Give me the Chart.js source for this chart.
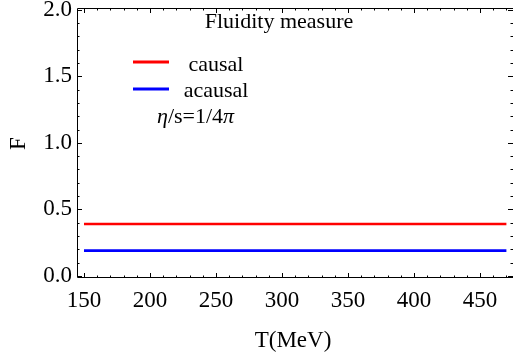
<!DOCTYPE html>
<html>
<head>
<meta charset="utf-8">
<script src="https://cdn.jsdelivr.net/npm/chart.js@4.4.1/dist/chart.umd.min.js"></script>
<style>
  html, body { margin: 0; padding: 0; background: #fff; }
  #wrap { width: 513px; height: 360px; }
</style>
</head>
<body>
<div id="wrap"><canvas id="fluidChart" width="513" height="360"></canvas></div>
<script>
// ---- data ----
const temperatures = [150, 200, 250, 300, 350, 400, 450, 470];
const causalF = [0.39, 0.39, 0.39, 0.39, 0.39, 0.39, 0.39, 0.39];
const acausalF = [0.19, 0.19, 0.19, 0.19, 0.19, 0.19, 0.19, 0.19];
const xTickLabels = [150, 200, 250, 300, 350, 400, 450];
const yTickLabels = [0.0, 0.5, 1.0, 1.5, 2.0];
const seriesNames = ["causal", "acausal"];
const seriesColors = ["#ff0000", "#0000ff"];

const SERIF = "'Liberation Serif', 'Times New Roman', serif";

// frame + inward ticks on all four sides, legend and labels
const decorPlugin = {
  id: "decor",
  afterDraw(chart) {
    const ctx = chart.ctx;
    const { left, right, top, bottom } = chart.chartArea;
    const xs = chart.scales.x, ys = chart.scales.y;
    ctx.save();
    ctx.strokeStyle = "#000";
    ctx.lineWidth = 1;
    // frame (right side falls just outside the picture)
    ctx.beginPath();
    ctx.moveTo(right, top + 0.5); ctx.lineTo(left + 0.5, top + 0.5);
    ctx.lineTo(left + 0.5, bottom - 0.5); ctx.lineTo(right, bottom - 0.5);
    ctx.stroke();

    ctx.beginPath();
    for (let v = 150; v <= 470; v += 10) {
      const px = Math.round(xs.getPixelForValue(v)) + 0.5;
      const len = (v % 50 === 0) ? 5 : 2.5;
      ctx.moveTo(px, bottom); ctx.lineTo(px, bottom - len);
      ctx.moveTo(px, top); ctx.lineTo(px, top + len);
    }
    for (let i = 0; i <= 20; i++) {
      const v = i / 10;
      const py = Math.round(ys.getPixelForValue(v)) + 0.5;
      const len = (i % 5 === 0) ? 5 : 2.5;
      ctx.moveTo(left, py); ctx.lineTo(left + len, py);
      ctx.moveTo(right, py); ctx.lineTo(right - len, py);
    }
    ctx.stroke();

    // title inside plot
    ctx.fillStyle = "#000";
    ctx.textBaseline = "alphabetic";
    ctx.textAlign = "center";
    ctx.font = "22px " + SERIF;
    ctx.fillText("Fluidity measure", 279, 28);

    // legend
    const legendY = [62, 89];
    const textY = [71, 97];
    for (let i = 0; i < seriesNames.length; i++) {
      ctx.strokeStyle = seriesColors[i];
      ctx.lineWidth = 3;
      ctx.beginPath();
      ctx.moveTo(133, legendY[i]);
      ctx.lineTo(169, legendY[i]);
      ctx.stroke();
      ctx.fillText(seriesNames[i], 216, textY[i]);
    }

    // eta/s = 1/4 pi
    ctx.textAlign = "left";
    const parts = [["η", true], ["/s=1/4", false], ["π", true]];
    let tx = 157;
    parts.forEach(([t, it]) => {
      ctx.font = (it ? "italic " : "") + "22px " + SERIF;
      ctx.fillText(t, tx, 123);
      tx += ctx.measureText(t).width;
    });

    // axis titles
    ctx.font = "23px " + SERIF;
    ctx.textAlign = "center";
    ctx.fillText("T(MeV)", 293, 347);
    ctx.translate(25, 143.5);
    ctx.rotate(-Math.PI / 2);
    ctx.fillText("F", 0, 0);
    ctx.restore();
  }
};

new Chart(document.getElementById("fluidChart"), {
  type: "line",
  data: {
    datasets: [
      {
        label: seriesNames[0],
        data: temperatures.map((t, i) => ({ x: t, y: causalF[i] })),
        borderColor: seriesColors[0],
        borderWidth: 2.7,
        pointRadius: 0,
        tension: 0
      },
      {
        label: seriesNames[1],
        data: temperatures.map((t, i) => ({ x: t, y: acausalF[i] })),
        borderColor: seriesColors[1],
        borderWidth: 2.7,
        pointRadius: 0,
        tension: 0
      }
    ]
  },
  options: {
    responsive: false,
    animation: false,
    devicePixelRatio: 1,
    layout: { padding: { top: 8, right: 0, left: 0, bottom: 0 } },
    plugins: { legend: { display: false }, tooltip: { enabled: false } },
    scales: {
      x: {
        type: "linear",
        min: 144.7,
        max: 475,
        grid: { display: false, drawTicks: false },
        border: { display: false },
        afterBuildTicks: s => { s.ticks = xTickLabels.map(v => ({ value: v })); },
        afterFit: s => { s.height = 82; s.paddingLeft = 0; s.paddingRight = 0; },
        ticks: {
          padding: 9,
          color: "#000",
          maxRotation: 0,
          autoSkip: false,
          font: { family: SERIF, size: 23 },
          callback: v => String(v)
        }
      },
      y: {
        min: -0.016,
        max: 2.014,
        grid: { display: false, drawTicks: false },
        border: { display: false },
        afterBuildTicks: s => { s.ticks = yTickLabels.map(v => ({ value: v })); },
        afterFit: s => { s.width = 77; s.paddingTop = 0; s.paddingBottom = 0; },
        ticks: {
          padding: 5,
          color: "#000",
          autoSkip: false,
          font: { family: SERIF, size: 23 },
          callback: v => Number(v).toFixed(1)
        }
      }
    }
  },
  plugins: [decorPlugin]
});
</script>
</body>
</html>
